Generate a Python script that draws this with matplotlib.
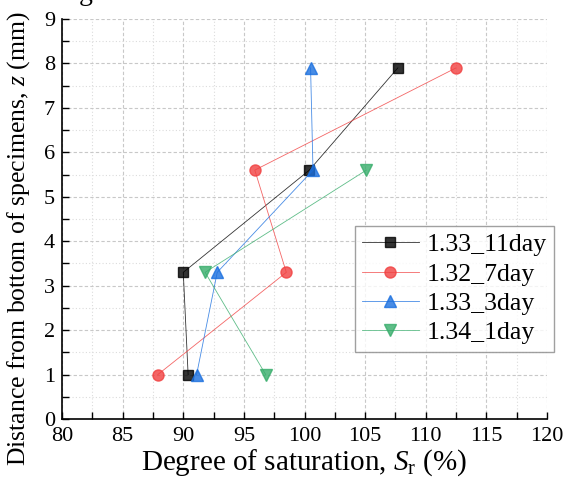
import numpy as np
import matplotlib
matplotlib.use('Agg')
import matplotlib.pyplot as plt
from matplotlib.ticker import MultipleLocator

plt.rcParams['font.family'] = ['Liberation Serif', 'DejaVu Serif']
plt.rcParams['mathtext.fontset'] = 'custom'
plt.rcParams['mathtext.it'] = 'Liberation Serif:italic'
plt.rcParams['mathtext.rm'] = 'Liberation Serif'

# depth of each measuring layer (mm)
z = [1.0, 3.3, 5.6, 7.9]

sr_133_11day = [90.4, 90.0, 100.4, 107.7]
sr_132_7day = [87.9, 98.5, 95.9, 112.5]
sr_133_3day = [91.1, 92.8, 100.7, 100.5]
sr_134_1day = [96.8, 91.8, 105.1]

labels = ['1.33_11day', '1.32_7day', '1.33_3day', '1.34_1day']

fig = plt.figure(figsize=(5.77, 4.91), dpi=100)
ax = fig.add_axes([0.1075, 0.1466, 0.8405, 0.8147])

series = [
    (sr_133_11day, z, 's', '#000000', 7),
    (sr_132_7day, z, 'o', '#F14040', 8),
    (sr_133_3day, z, '^', '#1A6FDF', 8.5),
    (sr_134_1day, z[:3], 'v', '#37AD6B', 8.5),
]
for (x, y, m, c, ms), lab in zip(series, labels):
    ax.plot(x, y, '-', color=c, lw=0.6, alpha=0.8, marker=m, ms=ms,
            mec=c, mfc=c, label=lab, zorder=3)

ax.set_xlim(80, 120)
ax.set_ylim(0, 9)
ax.xaxis.set_major_locator(MultipleLocator(5))
ax.xaxis.set_minor_locator(MultipleLocator(2.5))
ax.yaxis.set_major_locator(MultipleLocator(1))
ax.yaxis.set_minor_locator(MultipleLocator(0.5))

ax.grid(which='major', ls=(0, (3, 2)), color='#c8c8c8', lw=0.8)
ax.grid(which='minor', ls=(0, (1, 2)), color='#dcdcdc', lw=0.8)
ax.set_axisbelow(True)

for s in ['top', 'right']:
    ax.spines[s].set_visible(False)
for s in ['left', 'bottom']:
    ax.spines[s].set_linewidth(1.2)

ax.tick_params(which='both', direction='in', length=5, width=1.0,
               labelsize=16)
ax.tick_params(axis='x', pad=6)
ax.tick_params(axis='y', pad=5)

ax.set_xlabel(r'Degree of saturation, $S_{\mathrm{r}}$ (%)', fontsize=21, labelpad=1)
ax.set_ylabel(r'Distance from bottom of specimens, $z$ (mm)', fontsize=18.5)
ax.yaxis.set_label_coords(-0.062, 0.45)

leg = ax.legend(loc='upper left', bbox_to_anchor=(0.604, 0.4825), fontsize=18.5,
                frameon=True, fancybox=False, edgecolor='#888888',
                handlelength=2.2, handletextpad=0.3, borderpad=0.28,
                labelspacing=0.25, borderaxespad=0)
leg.get_frame().set_linewidth(1.0)

# descender of a clipped title above the plot
fig.text(0.148, 1.0, 'g', fontsize=20, va='baseline', ha='center')

fig.savefig('out.png', dpi=100)
